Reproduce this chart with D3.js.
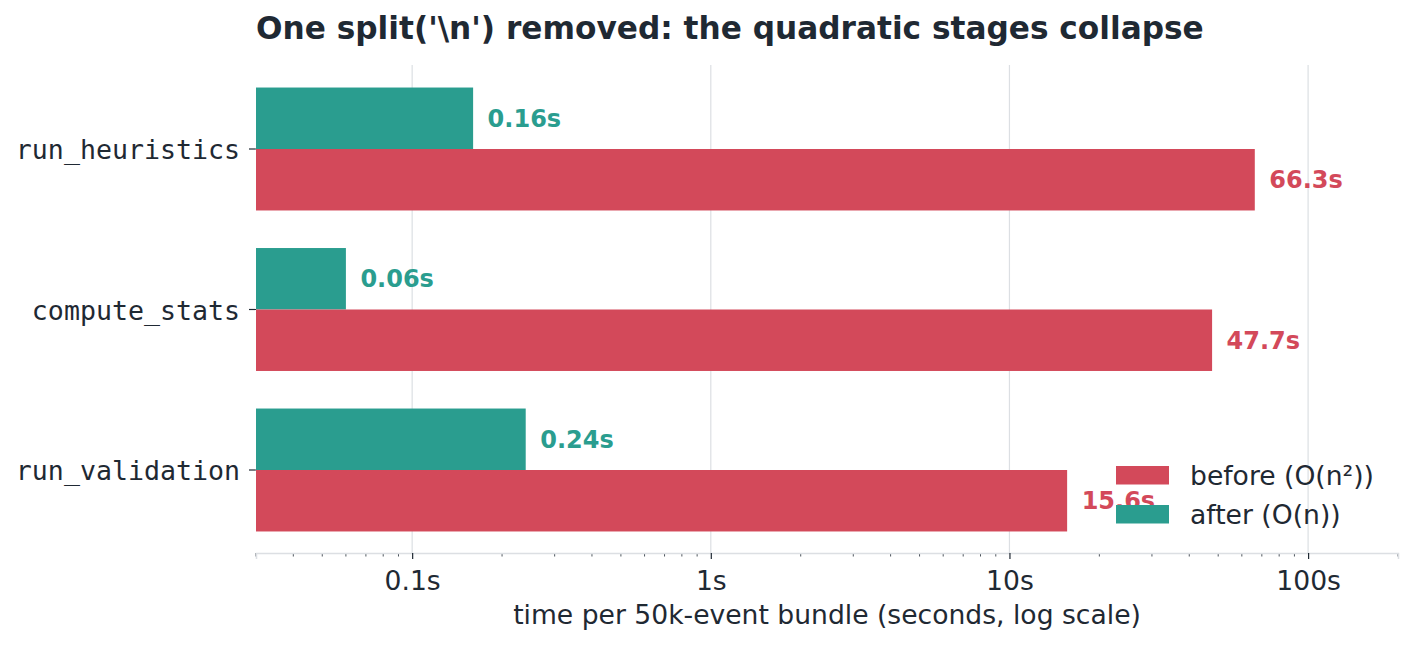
<!DOCTYPE html>
<html><head><meta charset="utf-8">
<script src="https://cdn.jsdelivr.net/npm/d3@7"></script>
<style>body{margin:0;background:#fff;} svg{display:block;}</style>
</head><body>
<svg id="c" width="1414" height="646"></svg>
<script>
const categories = ["run_heuristics", "compute_stats", "run_validation"];
const beforeValues = [66.3, 47.7, 15.6];
const afterValues = [0.16, 0.06, 0.24];
const beforeLabels = ["66.3s", "47.7s", "15.6s"];
const afterLabels = ["0.16s", "0.06s", "0.24s"];
const majorTicks = [0.1, 1, 10, 100];
const majorTickLabels = ["0.1s", "1s", "10s", "100s"];
const seriesNames = ["before (O(n\u00b2))", "after (O(n))"];

const RED = "#d3495a", TEAL = "#2a9d8f", INK = "#1f2933", GRID = "#dcdfe3";
const FS = 26.6;
const svg = d3.select("#c");
const L = 256, R = 1398, T = 65, B = 553;

const x = d3.scaleLog().domain([0.03, 200]).range([L, R]);
const y = d3.scaleBand().domain(categories).range([68.75, 550.25]).paddingInner(0.234).paddingOuter(0.117);

// grid
svg.append("g").selectAll("line").data(majorTicks).join("line")
  .attr("x1", d => x(d)).attr("x2", d => x(d)).attr("y1", T).attr("y2", B)
  .attr("stroke", GRID).attr("stroke-width", 1.2);

// minor ticks
const minor = [];
[0.01, 0.1, 1, 10, 100].forEach(dec => { for (let k = 2; k <= 9; k++) { const v = dec * k; if (v >= 0.03 - 1e-9 && v <= 200 + 1e-9) minor.push(v); } });
svg.append("g").selectAll("line").data(minor).join("line")
  .attr("x1", d => x(d)).attr("x2", d => x(d)).attr("y1", B).attr("y2", B + 3.5)
  .attr("stroke", INK).attr("stroke-width", 0.8);

// bars
const bh = y.bandwidth() / 2;
svg.append("g").selectAll("rect").data(categories).join("rect")
  .attr("x", x(0.03)).attr("y", (d) => y(d))
  .attr("width", (d, i) => x(afterValues[i]) - x(0.03)).attr("height", bh).attr("fill", TEAL);
svg.append("g").selectAll("rect").data(categories).join("rect")
  .attr("x", x(0.03)).attr("y", (d) => y(d) + bh)
  .attr("width", (d, i) => x(beforeValues[i]) - x(0.03)).attr("height", bh).attr("fill", RED);

// value labels
svg.append("g").selectAll("text").data(categories).join("text")
  .attr("x", (d, i) => x(afterValues[i]) + 14.5).attr("y", d => y(d) + bh / 2)
  .attr("dy", "0.36em").attr("fill", TEAL).attr("font-family", "DejaVu Sans").attr("font-weight", "bold")
  .attr("font-size", 24).text((d, i) => afterLabels[i]);
svg.append("g").selectAll("text").data(categories).join("text")
  .attr("x", (d, i) => x(beforeValues[i]) + 14.5).attr("y", d => y(d) + bh * 1.5)
  .attr("dy", "0.36em").attr("fill", RED).attr("font-family", "DejaVu Sans").attr("font-weight", "bold")
  .attr("font-size", 24).text((d, i) => beforeLabels[i]);

// x axis
const xa = svg.append("g").attr("transform", `translate(0,${B})`)
  .call(d3.axisBottom(x).tickValues(majorTicks).tickFormat((d, i) => majorTickLabels[i]).tickSize(6).tickPadding(12));
xa.select(".domain").attr("stroke", GRID).attr("stroke-width", 1.5);
xa.selectAll(".tick line").attr("stroke", INK).attr("stroke-width", 1.2);
xa.selectAll(".tick text").attr("fill", INK).attr("font-family", "DejaVu Sans").attr("font-size", FS);

// y axis
const ya = svg.append("g").attr("transform", `translate(${L},0)`)
  .call(d3.axisLeft(y).tickSize(7).tickPadding(9));
ya.select(".domain").remove();
ya.selectAll(".tick line").attr("stroke", INK).attr("stroke-width", 1.2);
ya.selectAll(".tick text").attr("fill", INK).attr("font-family", "DejaVu Sans Mono").attr("font-size", FS).attr("dy", "0.38em");

// axis label
svg.append("text").attr("x", (L + R) / 2 + 0).attr("y", 624).attr("text-anchor", "middle")
  .attr("fill", INK).attr("font-family", "DejaVu Sans").attr("font-size", FS)
  .text("time per 50k-event bundle (seconds, log scale)");

// title
svg.append("text").attr("x", L).attr("y", 39).attr("fill", INK)
  .attr("font-family", "DejaVu Sans").attr("font-weight", "bold").attr("font-size", 31.2)
  .text("One split('\\n') removed: the quadratic stages collapse");

// legend
const lg = svg.append("g").attr("transform", "translate(1116,466)");
[RED, TEAL].forEach((c, i) => {
  lg.append("rect").attr("x", 0).attr("y", i * 39).attr("width", 53).attr("height", 18.5).attr("fill", c);
  lg.append("text").attr("x", 74).attr("y", i * 39 + 9.5).attr("dy", "0.35em").attr("fill", INK)
    .attr("font-family", "DejaVu Sans").attr("font-size", FS).text(seriesNames[i]);
});
</script>
</body></html>
